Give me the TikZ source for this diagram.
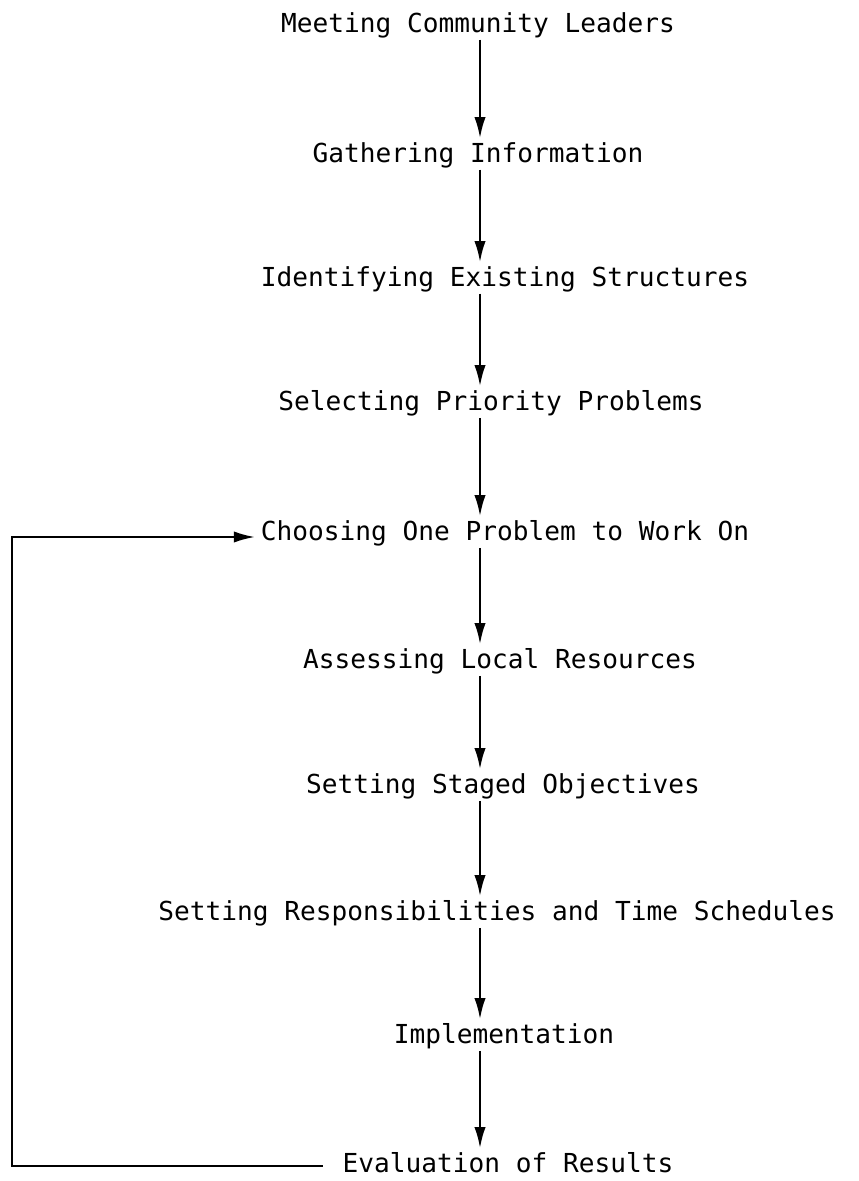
\documentclass[tikz,border=0pt]{standalone}
\usepackage{fontspec}
\setmonofont{DejaVu Sans Mono}
\usetikzlibrary{arrows.meta}

\begin{document}
\begin{tikzpicture}[
    x=0.025cm, y=-0.025cm,
    >=Latex,
    flow/.style={-{Latex[length=15pt, width=8pt]}, line width=1.6pt},
    stage/.style={font=\fontsize{18.6}{22}\ttfamily, inner xsep=4pt, inner ysep=0pt,
                  text height=17pt, text depth=5pt}
]
\useasboundingbox (0,0) rectangle (858,1181);

% Stages down the page
\node[stage] (meet)     at (478,24)   {Meeting Community Leaders};
\node[stage] (gather)   at (478,154)  {Gathering Information};
\node[stage] (identify) at (505,278)  {Identifying Existing Structures};
\node[stage] (select)   at (491,402)  {Selecting Priority Problems};
\node[stage] (choose)   at (505,532)  {Choosing One Problem to Work On};
\node[stage] (assess)   at (500,660)  {Assessing Local Resources};
\node[stage] (staged)   at (503,785)  {Setting Staged Objectives};
\node[stage] (resp)     at (497,912)  {Setting Responsibilities and Time Schedules};
\node[stage] (impl)     at (504,1035) {Implementation};
\node[stage] (eval)     at (508,1164) {Evaluation of Results};

% Main vertical line
\coordinate (spine) at (480,0);
\draw[flow] (meet.south -| spine)     -- (gather.north -| spine);
\draw[flow] (gather.south -| spine)   -- (identify.north -| spine);
\draw[flow] (identify.south -| spine) -- (select.north -| spine);
\draw[flow] (select.south -| spine)   -- (choose.north -| spine);
\draw[flow] (choose.south -| spine)   -- (assess.north -| spine);
\draw[flow] (assess.south -| spine)   -- (staged.north -| spine);
\draw[flow] (staged.south -| spine)   -- (resp.north -| spine);
\draw[flow] (resp.south -| spine)     -- (impl.north -| spine);
\draw[flow] (impl.south -| spine)     -- (eval.north -| spine);

% Feedback loop back to choosing
\coordinate (loopleft) at (12,537);
\draw[flow, shorten <=10pt] (eval.west |- 0,1166) -| (loopleft) |- (choose.west |- loopleft);

\end{tikzpicture}
\end{document}
